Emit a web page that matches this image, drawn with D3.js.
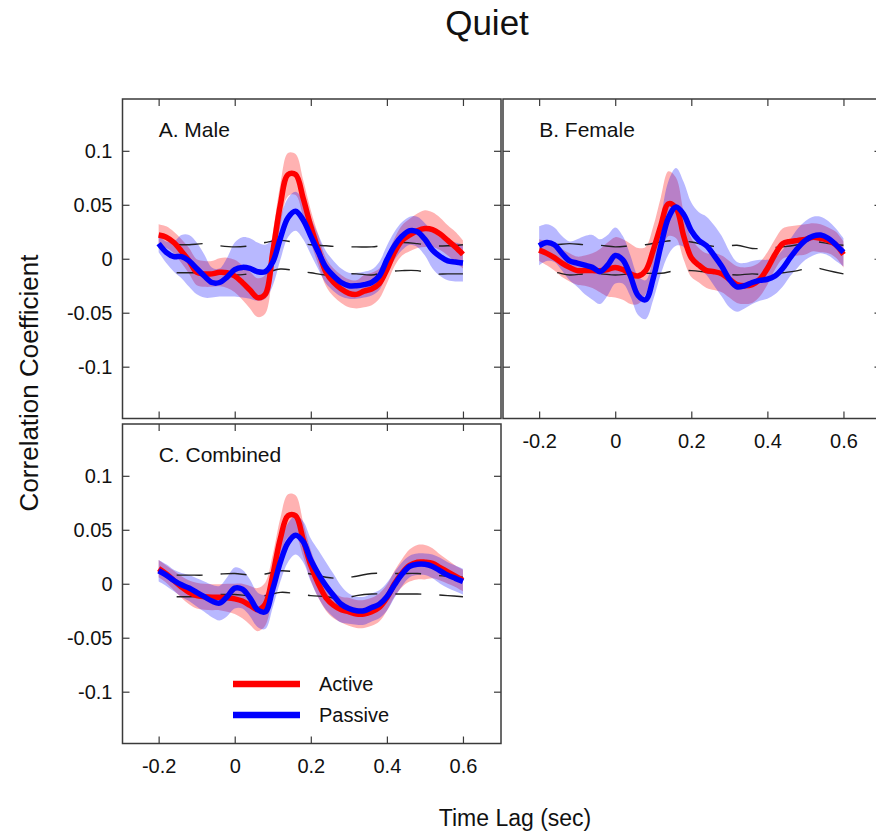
<!DOCTYPE html>
<html>
  <head>
    <meta charset="utf-8">
    <script src="https://d3js.org/d3.v7.min.js"></script>
    <style type="text/css">

html, body {
  margin: 0;
  padding: 0;
  background: #fff;
}

svg text {
  font-family: "Liberation Sans", Arial, Helvetica, sans-serif;
  fill: #111;
}

.frame {
  fill: none;
  stroke: #3a3a3a;
  stroke-width: 1.5px;
}

.tick line {
  stroke: #3a3a3a;
  stroke-width: 1.2px;
}

.band-active { fill: #ff0000; fill-opacity: 0.3; }
.band-passive { fill: #0000ff; fill-opacity: 0.28; }

.mean {
  fill: none;
  stroke-width: 5.5px;
  stroke-linejoin: round;
}

.chance {
  fill: none;
  stroke: #222;
  stroke-width: 1.4px;
  stroke-dasharray: 26 18;
  stroke-dashoffset: 26;
}

    </style>
  </head>
  <body>
    <svg id="chart" width="876" height="837"></svg>
    <script type="text/javascript">

// time lags (sec) of the correlation curves
var lags = [-0.2, -0.18, -0.16, -0.14, -0.12, -0.1, -0.08, -0.06, -0.04, -0.02, 0,
  0.02, 0.04, 0.06, 0.08, 0.1, 0.12, 0.14, 0.16, 0.18, 0.2, 0.22, 0.24, 0.26, 0.28,
  0.3, 0.32, 0.34, 0.36, 0.38, 0.4, 0.42, 0.44, 0.46, 0.48, 0.5, 0.52, 0.54, 0.56, 0.58, 0.6];

// lags of the dashed chance-level bounds
var boundLags = [-0.2, -0.16, -0.12, -0.08, -0.04, 0, 0.04, 0.08, 0.12, 0.16, 0.2,
  0.24, 0.28, 0.32, 0.36, 0.4, 0.44, 0.48, 0.52, 0.56, 0.6];

var xTicks = [-0.2, 0, 0.2, 0.4, 0.6];
var yTicks = [-0.1, -0.05, 0, 0.05, 0.1];

// A. Male
var maleActive = [0.022, 0.020, 0.015, 0.007, -0.002, -0.0125, -0.014, -0.014, -0.0125, -0.013, -0.016,
  -0.022, -0.029, -0.036, -0.033, 0.006, 0.050, 0.078, 0.078, 0.056, 0.030, 0.008, -0.0125, -0.022, -0.028,
  -0.032, -0.033, -0.030, -0.028, -0.023, -0.010, 0.006, 0.017, 0.022, 0.026, 0.028, 0.027, 0.023, 0.017, 0.011, 0.004];
var maleActiveErr = [0.010, 0.010, 0.010, 0.011, 0.012, 0.012, 0.012, 0.012, 0.013, 0.014, 0.015,
  0.016, 0.017, 0.018, 0.018, 0.018, 0.019, 0.020, 0.019, 0.017, 0.015, 0.014, 0.013, 0.013, 0.013,
  0.013, 0.013, 0.015, 0.015, 0.014, 0.013, 0.013, 0.014, 0.015, 0.016, 0.017, 0.016, 0.015, 0.014, 0.014, 0.013];
var malePassive = [0.014, 0.006, 0.002, 0.002, -0.002, -0.009, -0.016, -0.022, -0.022, -0.017, -0.010,
  -0.008, -0.009, -0.012, -0.012, -0.003, 0.019, 0.038, 0.044, 0.036, 0.021, 0.006, -0.008, -0.016, -0.022,
  -0.025, -0.025, -0.024, -0.022, -0.016, -0.001, 0.012, 0.021, 0.026, 0.025, 0.018, 0.008, 0.002, -0.002, -0.003, -0.004];
var malePassiveErr = [0.008, 0.010, 0.014, 0.020, 0.024, 0.024, 0.020, 0.014, 0.013, 0.018, 0.025,
  0.028, 0.028, 0.027, 0.025, 0.022, 0.020, 0.018, 0.018, 0.018, 0.017, 0.016, 0.015, 0.014, 0.013,
  0.012, 0.012, 0.012, 0.012, 0.013, 0.013, 0.013, 0.013, 0.013, 0.014, 0.015, 0.017, 0.018, 0.018, 0.018, 0.017];
var maleUpper = [0.013, 0.013, 0.013, 0.014, 0.012, 0.011, 0.012, 0.015, 0.017, 0.015, 0.013,
  0.012, 0.011, 0.011, 0.011, 0.013, 0.015, 0.014, 0.012, 0.012, 0.013];
var maleLower = [-0.013, -0.013, -0.013, -0.013, -0.0125, -0.015, -0.014, -0.013, -0.0095, -0.011, -0.013,
  -0.015, -0.014, -0.014, -0.015, -0.012, -0.011, -0.011, -0.014, -0.014, -0.014];

// B. Female
var femaleActive = [0.008, 0.005, 0.001, -0.004, -0.008, -0.011, -0.011, -0.011, -0.011, -0.010, -0.008,
  -0.010, -0.014, -0.016, -0.011, 0.008, 0.031, 0.051, 0.047, 0.021, 0.001, -0.006, -0.011, -0.012, -0.014,
  -0.019, -0.024, -0.025, -0.024, -0.019, -0.009, 0.004, 0.014, 0.016, 0.017, 0.018, 0.020, 0.019, 0.017, 0.013, 0.004];
var femaleActiveErr = [0.010, 0.011, 0.012, 0.013, 0.013, 0.013, 0.014, 0.016, 0.020, 0.025, 0.028,
  0.028, 0.028, 0.026, 0.022, 0.022, 0.026, 0.030, 0.028, 0.022, 0.018, 0.016, 0.016, 0.017, 0.017,
  0.017, 0.017, 0.017, 0.017, 0.016, 0.015, 0.014, 0.014, 0.014, 0.014, 0.014, 0.013, 0.013, 0.012, 0.012, 0.012];
var femalePassive = [0.012, 0.015, 0.013, 0.005, -0.002, -0.004, -0.006, -0.008, -0.012, -0.006, 0.003,
  -0.001, -0.016, -0.034, -0.038, -0.018, 0.012, 0.038, 0.048, 0.041, 0.026, 0.017, 0.012, 0.003, -0.007,
  -0.019, -0.026, -0.025, -0.022, -0.020, -0.019, -0.016, -0.009, 0.001, 0.010, 0.017, 0.021, 0.022, 0.019, 0.013, 0.006];
var femalePassiveErr = [0.018, 0.017, 0.016, 0.016, 0.018, 0.022, 0.027, 0.030, 0.030, 0.028, 0.026,
  0.022, 0.019, 0.018, 0.018, 0.020, 0.026, 0.034, 0.036, 0.030, 0.026, 0.026, 0.027, 0.028, 0.028,
  0.026, 0.023, 0.021, 0.020, 0.019, 0.018, 0.017, 0.017, 0.017, 0.018, 0.018, 0.018, 0.017, 0.016, 0.015, 0.013];
var femaleUpper = [0.013, 0.013, 0.014, 0.013, 0.0125, 0.011, 0.012, 0.013, 0.0155, 0.017, 0.0155,
  0.0125, 0.011, 0.0125, 0.0095, 0.010, 0.011, 0.013, 0.016, 0.014, 0.0125];
var femaleLower = [-0.0125, -0.0125, -0.015, -0.014, -0.014, -0.015, -0.014, -0.0135, -0.0135, -0.011, -0.011,
  -0.0125, -0.014, -0.015, -0.014, -0.015, -0.013, -0.011, -0.008, -0.011, -0.014];

// C. Combined
var combinedActive = [0.014, 0.009, 0.003, -0.003, -0.008, -0.011, -0.012, -0.0125, -0.0125, -0.013, -0.014,
  -0.016, -0.020, -0.024, -0.019, 0.008, 0.042, 0.063, 0.063, 0.041, 0.017, 0.000, -0.013, -0.020, -0.024,
  -0.026, -0.028, -0.028, -0.026, -0.022, -0.013, 0.000, 0.010, 0.017, 0.020, 0.020, 0.019, 0.015, 0.011, 0.007, 0.003];
var combinedActiveErr = [0.008, 0.008, 0.009, 0.010, 0.011, 0.012, 0.012, 0.012, 0.012, 0.013, 0.014,
  0.016, 0.018, 0.020, 0.020, 0.019, 0.019, 0.020, 0.019, 0.016, 0.014, 0.013, 0.012, 0.012, 0.012,
  0.013, 0.013, 0.013, 0.013, 0.013, 0.012, 0.012, 0.013, 0.015, 0.016, 0.016, 0.014, 0.012, 0.011, 0.010, 0.010];
var combinedPassive = [0.012, 0.008, 0.003, -0.001, -0.004, -0.008, -0.012, -0.016, -0.018, -0.012, -0.004,
  -0.005, -0.013, -0.024, -0.026, -0.005, 0.020, 0.038, 0.045, 0.039, 0.022, 0.009, -0.002, -0.011, -0.019,
  -0.023, -0.025, -0.025, -0.022, -0.019, -0.012, -0.001, 0.009, 0.016, 0.018, 0.018, 0.016, 0.012, 0.008, 0.005, 0.002];
var combinedPassiveErr = [0.010, 0.010, 0.010, 0.011, 0.012, 0.013, 0.014, 0.015, 0.016, 0.018, 0.019,
  0.018, 0.017, 0.016, 0.016, 0.017, 0.018, 0.018, 0.018, 0.019, 0.020, 0.022, 0.022, 0.020, 0.017,
  0.014, 0.013, 0.013, 0.013, 0.013, 0.013, 0.012, 0.011, 0.010, 0.010, 0.010, 0.011, 0.012, 0.012, 0.012, 0.012];
var combinedUpper = [0.008, 0.008, 0.008, 0.008, 0.009, 0.0095, 0.008, 0.009, 0.012, 0.011, 0.009,
  0.006, 0.005, 0.007, 0.0095, 0.0095, 0.0095, 0.0095, 0.008, 0.007, 0.006];
var combinedLower = [-0.012, -0.012, -0.012, -0.0115, -0.010, -0.010, -0.011, -0.011, -0.008, -0.009, -0.011,
  -0.012, -0.014, -0.011, -0.0095, -0.0095, -0.0095, -0.0095, -0.010, -0.011, -0.012];

var legendNames = ["Active", "Passive"];
var activeColor = "#ff0000",
    passiveColor = "#0000ff";

var panels = [
  {label: "A. Male", left: 122.5, top: 99, xLabels: false, yLabels: true,
   active: maleActive, activeErr: maleActiveErr, passive: malePassive, passiveErr: malePassiveErr,
   upper: maleUpper, lower: maleLower},
  {label: "B. Female", left: 503, top: 99, xLabels: true, yLabels: false,
   active: femaleActive, activeErr: femaleActiveErr, passive: femalePassive, passiveErr: femalePassiveErr,
   upper: femaleUpper, lower: femaleLower},
  {label: "C. Combined", left: 122.5, top: 424, xLabels: true, yLabels: true, legend: true,
   active: combinedActive, activeErr: combinedActiveErr, passive: combinedPassive, passiveErr: combinedPassiveErr,
   upper: combinedUpper, lower: combinedLower}
];

var panelWidth = 378.5,
    panelHeight = 319.5,
    tickLen = 7;

var svg = d3.select("#chart");

var fmt = function(d) { return String(d); };

function drawPanel(p, n) {
  var right = p.left + panelWidth,
      bottom = p.top + panelHeight;

  var x = d3.scaleLinear().domain([-0.295, 0.7]).range([p.left, right]);
  var y = d3.scaleLinear().domain([-0.148, 0.148]).range([bottom, p.top]);

  var g = svg.append("g");

  g.append("clipPath").attr("id", "clip" + n)
    .append("rect")
      .attr("x", p.left).attr("y", p.top)
      .attr("width", panelWidth).attr("height", panelHeight);

  var plot = g.append("g").attr("clip-path", "url(#clip" + n + ")");
  var smooth = d3.curveCatmullRom.alpha(0.5);

  function band(mean, err) {
    return d3.area()
      .x(function(d, i) { return x(lags[i]); })
      .y0(function(d, i) { return y(mean[i] - err[i]); })
      .y1(function(d, i) { return y(mean[i] + err[i]); })
      .curve(smooth)(lags);
  }

  function meanLine(mean) {
    return d3.line()
      .x(function(d, i) { return x(lags[i]); })
      .y(function(d, i) { return y(mean[i]); })
      .curve(smooth)(lags);
  }

  var bound = d3.line()
    .x(function(d, i) { return x(boundLags[i]); })
    .y(function(d) { return y(d); })
    .curve(d3.curveCatmullRom.alpha(0.5));

  plot.append("path").attr("class", "band-active").attr("d", band(p.active, p.activeErr));
  plot.append("path").attr("class", "band-passive").attr("d", band(p.passive, p.passiveErr));

  // dashed chance-level bounds
  plot.append("path").attr("class", "chance").attr("d", bound(p.upper));
  plot.append("path").attr("class", "chance").attr("d", bound(p.lower));

  plot.append("path").attr("class", "mean").attr("stroke", activeColor).attr("d", meanLine(p.active));
  plot.append("path").attr("class", "mean").attr("stroke", passiveColor).attr("d", meanLine(p.passive));

  // inward ticks on all four sides, MATLAB style
  var axes = [
    {axis: d3.axisBottom(x).tickValues(xTicks).tickPadding(15)
        .tickFormat(p.xLabels ? fmt : ""), at: "translate(0," + bottom + ")"},
    {axis: d3.axisTop(x).tickValues(xTicks).tickFormat(""), at: "translate(0," + p.top + ")"},
    {axis: d3.axisLeft(y).tickValues(yTicks).tickPadding(10)
        .tickFormat(p.yLabels ? fmt : ""), at: "translate(" + p.left + ",0)"},
    {axis: d3.axisRight(y).tickValues(yTicks).tickFormat(""), at: "translate(" + right + ",0)"}
  ];
  axes.forEach(function(a) {
    var ag = g.append("g")
        .attr("transform", a.at)
        .call(a.axis.tickSizeInner(-tickLen).tickSizeOuter(0));
    ag.select(".domain").remove();
    ag.attr("font-size", 20).attr("font-family", null);
    ag.selectAll("text").attr("fill", "#111");
  });

  g.append("rect").attr("class", "frame")
    .attr("x", p.left).attr("y", p.top)
    .attr("width", panelWidth).attr("height", panelHeight);

  g.append("text")
    .attr("x", x(-0.2))
    .attr("y", p.top + 38)
    .attr("font-size", 21)
    .text(p.label);

  if (p.legend) {
    var lg = g.append("g");
    var rows = lg.selectAll("g")
        .data(legendNames)
      .enter().append("g")
        .attr("transform", function(d, i) { return "translate(0," + (684 + i * 31) + ")"; });
    rows.append("line")
      .attr("x1", 233).attr("x2", 300)
      .attr("stroke", function(d, i) { return i === 0 ? activeColor : passiveColor; })
      .attr("stroke-width", 6.5);
    rows.append("text")
      .attr("x", 319)
      .attr("dy", "0.35em")
      .attr("font-size", 20)
      .text(function(d) { return d; });
  }
}

panels.forEach(drawPanel);

svg.append("text")
  .attr("x", 487)
  .attr("y", 35)
  .attr("text-anchor", "middle")
  .attr("font-size", 35)
  .text("Quiet");

svg.append("text")
  .attr("x", 515)
  .attr("y", 826)
  .attr("text-anchor", "middle")
  .attr("font-size", 23)
  .text("Time Lag (sec)");

svg.append("text")
  .attr("transform", "translate(38,383) rotate(-90)")
  .attr("text-anchor", "middle")
  .attr("font-size", 26)
  .text("Correlation Coefficient");

    </script>
  </body>
</html>
